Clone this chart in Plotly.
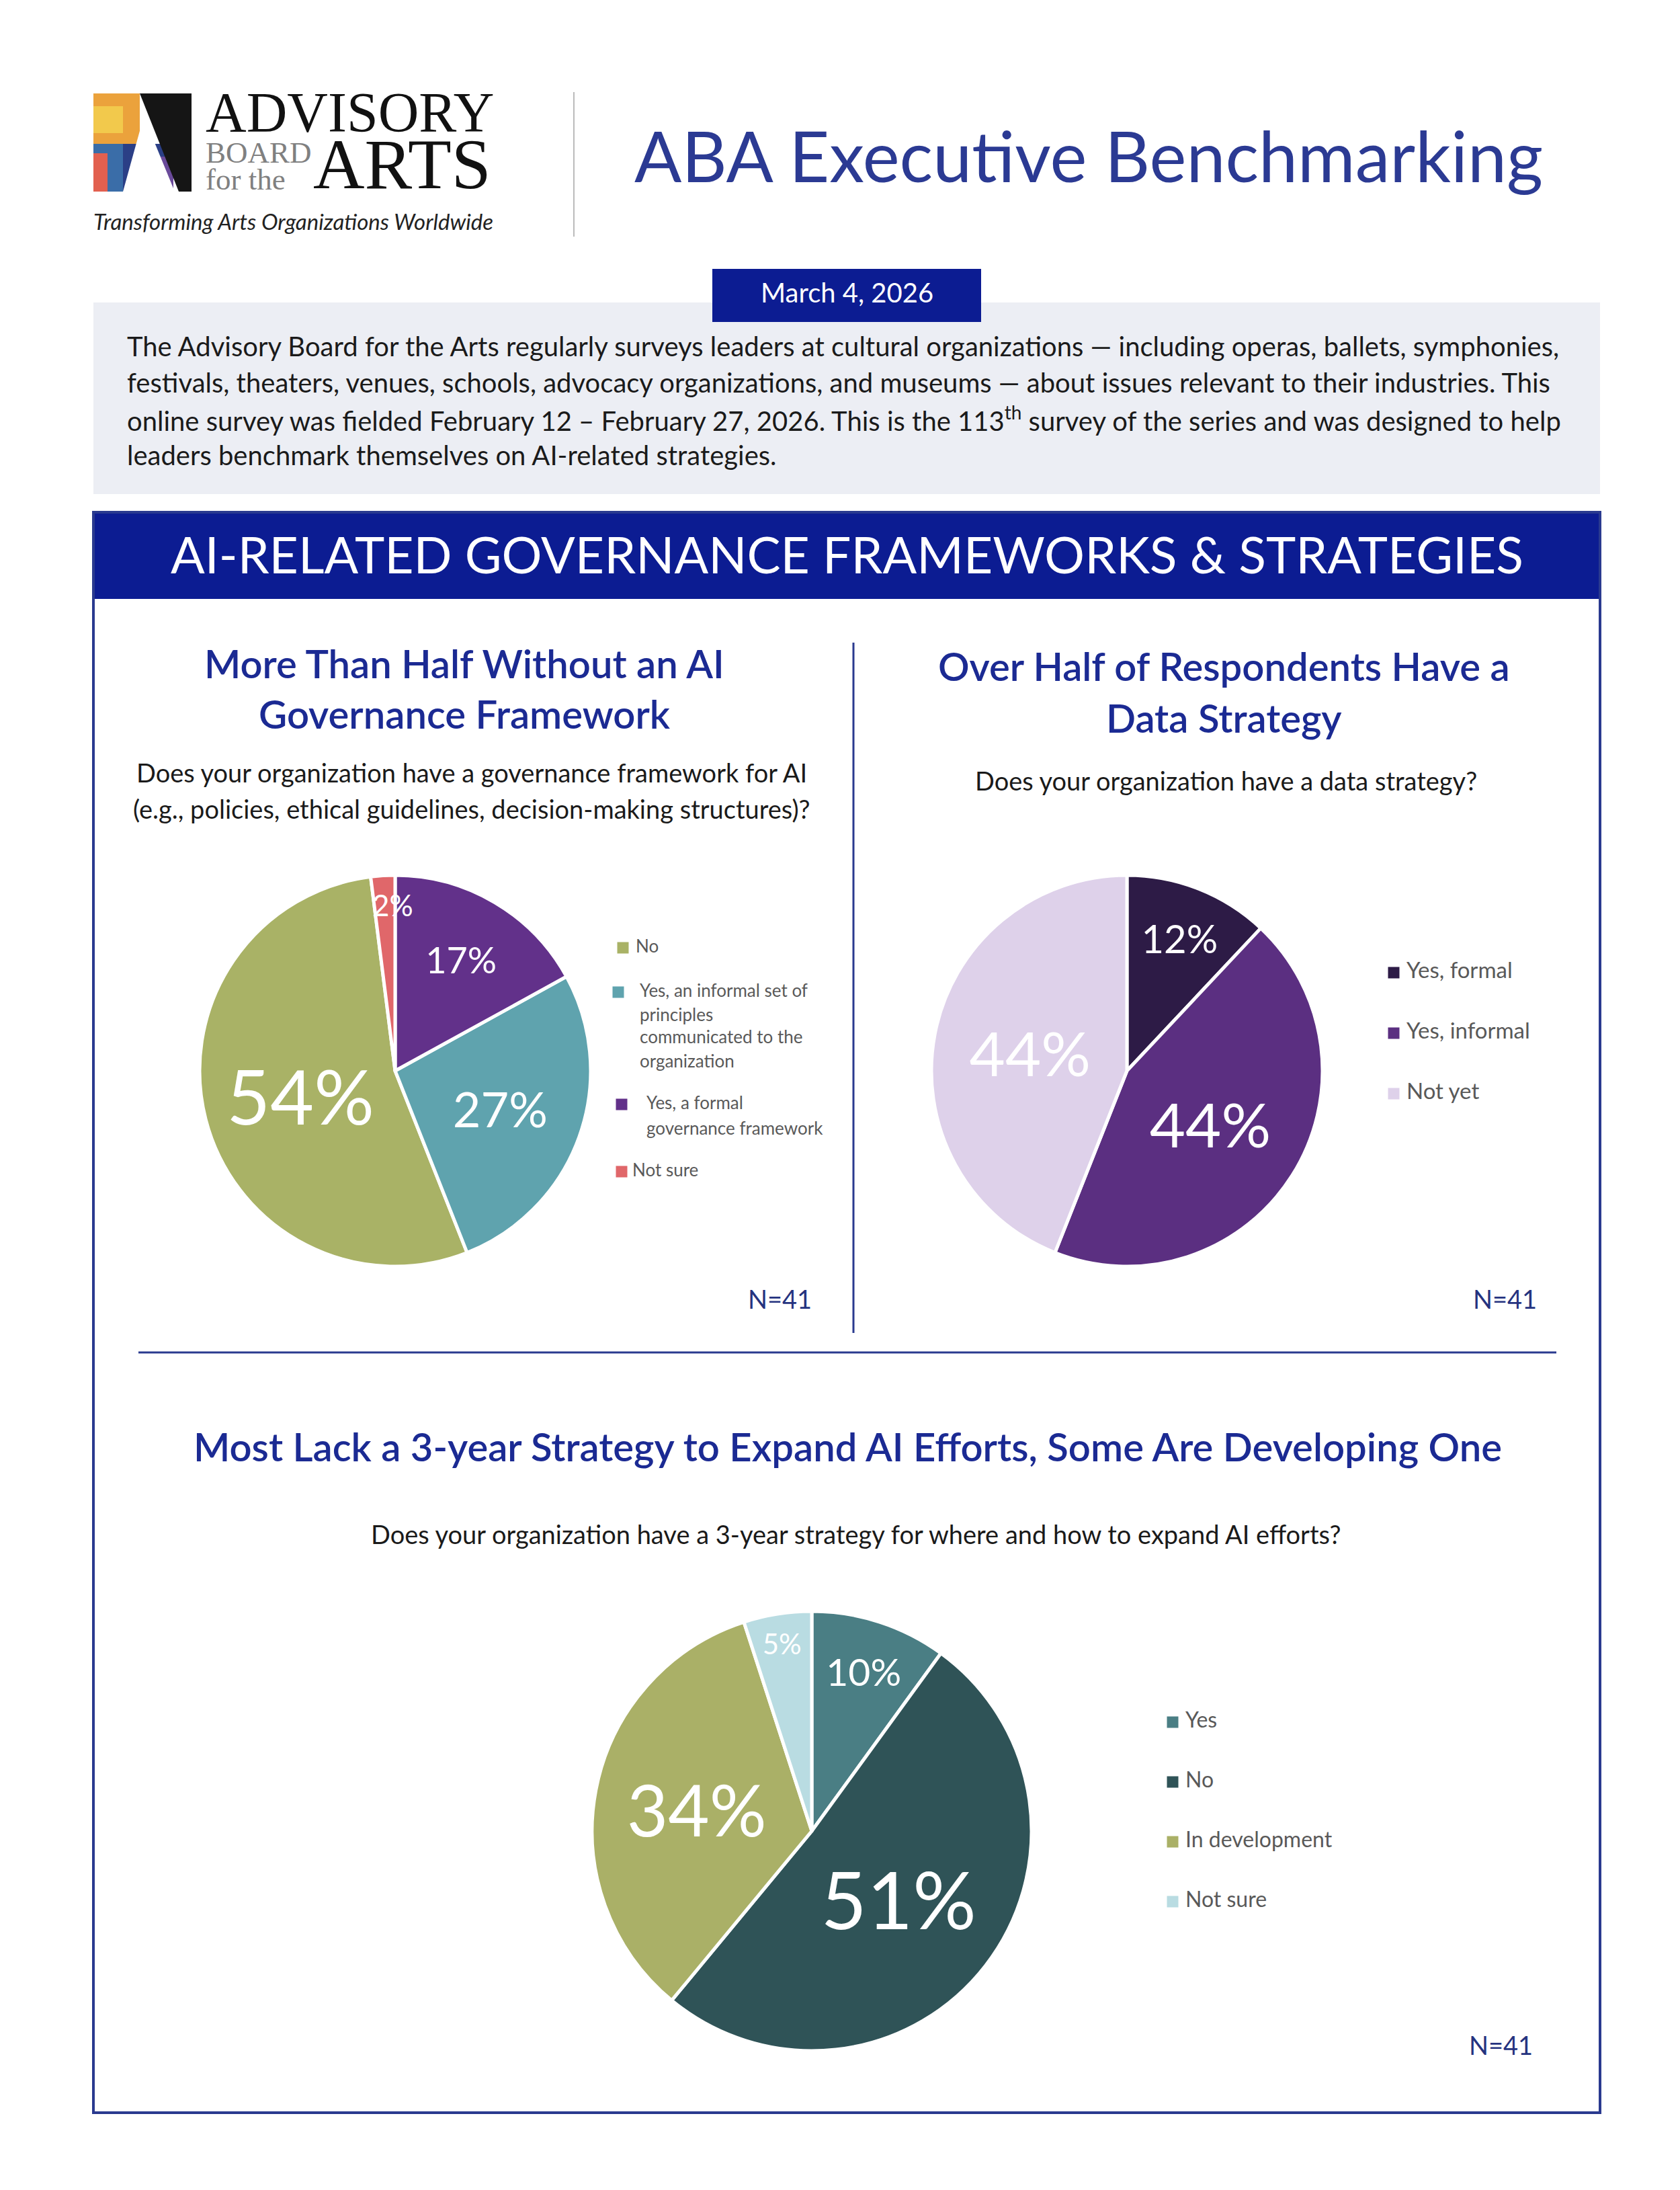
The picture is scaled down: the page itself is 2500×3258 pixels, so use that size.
import math
import plotly.graph_objects as go

W, H = 2500, 3258

# ---------------- data ----------------
gov_labels = ["No", "Yes, an informal set of principles communicated to the organization",
              "Yes, a formal governance framework", "Not sure"]
gov_legend = ["No", "Yes, an informal set of<br>principles<br>communicated to the<br>organization",
              "Yes, a formal<br>governance framework", "Not sure"]
gov_values = [54, 27, 17, 2]
gov_colors = ["#A9B266", "#5FA3AE", "#62318A", "#E0676A"]

data_labels = ["Yes, formal", "Yes, informal", "Not yet"]
data_values = [12, 44, 44]
data_colors = ["#2D1B46", "#5B2F81", "#DED1EA"]

strat_labels = ["Yes", "No", "In development", "Not sure"]
strat_values = [10, 51, 34, 5]
strat_colors = ["#4A7E84", "#2F5357", "#AAB067", "#B9DCE2"]

n_resp = [41, 41, 41]

FONT = "Lato"
NAVY = "#0C1C92"
TITLE_BLUE = "#1B2A93"
BORDER = "#2A3A8F"
DY = -7      # visual centring correction for annotation text
DX_LEFT = -8  # side-bearing correction for left-anchored text


def X(p):
    return p / W


def Y(p):
    return 1 - p / H


def dom(cx, cy, r):
    return dict(x=[X(cx - r), X(cx + r)], y=[Y(cy + r), Y(cy - r)])


fig = go.Figure()

# ---- pie 1 (governance framework) ----
P1 = (580, 1585, 291)
rot1 = 360 * sum(gov_values[1:3]) / sum(gov_values)
fig.add_trace(go.Pie(
    labels=gov_labels, values=gov_values, sort=False, direction="counterclockwise",
    rotation=rot1, domain=dom(*P1),
    marker=dict(colors=gov_colors, line=dict(color="white", width=5)),
    texttemplate="%{value}%",
    textposition=["inside", "inside", "inside", "none"],
    insidetextorientation="horizontal",
    textfont=dict(family=FONT, color="white", size=[112, 72, 54, 44]),
    hoverinfo="label+percent", showlegend=False,
))

# ---- pie 2 (data strategy) ----
P2 = (1669, 1585, 291)
fig.add_trace(go.Pie(
    labels=data_labels, values=data_values, sort=False, direction="clockwise",
    rotation=0, domain=dom(*P2),
    marker=dict(colors=data_colors, line=dict(color="white", width=5)),
    texttemplate="%{value}%", textposition="inside", insidetextorientation="horizontal",
    textfont=dict(family=FONT, color="white", size=[58, 92, 92]),
    hoverinfo="label+percent", showlegend=False,
))

# ---- pie 3 (3-year strategy) ----
P3 = (1200, 2716, 327)
fig.add_trace(go.Pie(
    labels=strat_labels, values=strat_values, sort=False, direction="clockwise",
    rotation=0, domain=dom(*P3),
    marker=dict(colors=strat_colors, line=dict(color="white", width=5)),
    texttemplate="%{value}%", textposition="inside", insidetextorientation="horizontal",
    textfont=dict(family=FONT, color="white", size=[57, 118, 106, 42]),
    hoverinfo="label+percent", showlegend=False,
))

shapes = []
annotations = []


def rect(x0, y0, x1, y1, fill=None, line=None, lw=0):
    shapes.append(dict(type="rect", xref="paper", yref="paper",
                       x0=X(x0), x1=X(x1), y0=Y(y1), y1=Y(y0),
                       fillcolor=fill if fill else "rgba(0,0,0,0)",
                       line=dict(color=line if line else "rgba(0,0,0,0)", width=lw),
                       layer="below"))


def line(x0, y0, x1, y1, color, w):
    shapes.append(dict(type="line", xref="paper", yref="paper",
                       x0=X(x0), x1=X(x1), y0=Y(y0), y1=Y(y1),
                       line=dict(color=color, width=w)))


def text(t, x, y, size, color="#1A1A1A", anchor="center", family=FONT, weight=None):
    f = dict(family=family, size=size, color=color)
    if weight:
        f["weight"] = weight
    if anchor == "left":
        x = x + DX_LEFT
    annotations.append(dict(text=t, x=X(x), y=Y(y + DY), xref="paper", yref="paper",
                            xanchor=anchor, yanchor="middle", showarrow=False, font=f))


# ---------- logo ----------
rect(131, 131, 200, 206, fill="#EBA23C")
rect(131, 150, 175, 190, fill="#F2C94C")
rect(131, 206, 200, 277, fill="#3A6DA8")
rect(131, 220, 152, 277, fill="#E2604F")
rect(175, 206, 250, 277, fill="#2B3F86")
rect(210, 225, 250, 277, fill="#6A4A9A")
shapes.append(dict(type="path", xref="paper", yref="paper",
                   path="M {a},{b} L {c},{b} L {c},{d} L {e},{d} Z".format(
                       a=X(200), b=Y(131), c=X(277), d=Y(277), e=X(258)),
                   fillcolor="#151515", line=dict(width=0)))
shapes.append(dict(type="path", xref="paper", yref="paper",
                   path="M {a},{b} L {c},{d} L {e},{d} Z".format(
                       a=X(206), b=Y(165), c=X(252), d=Y(277), e=X(175)),
                   fillcolor="white", line=dict(width=0)))
text("ADVISORY", 304, 166, 84, "#111111", "left", "Liberation Serif")
text("BOARD", 304, 226, 45, "#808080", "left", "Liberation Serif")
text("for the", 304, 266, 45, "#808080", "left", "Liberation Serif")
text("ARTS", 464, 244, 106, "#111111", "left", "Liberation Serif")
text("<i>Transforming Arts Organizations Worldwide</i>", 137, 328, 33, "#222222", "left")
line(846, 129, 846, 344, "#BBBBBB", 2)

# ---------- header ----------
text("ABA Executive Benchmarking", 1612, 230, 104, "#2B3A93")

rect(131, 442, 2373, 727, fill="#ECEEF4")
rect(1052, 392, 1452, 471, fill=NAVY)
text("March 4, 2026", 1252, 434, 40, "white")

intro = [
    "The Advisory Board for the Arts regularly surveys leaders at cultural organizations \u2014 including operas, ballets, symphonies,",
    "festivals, theaters, venues, schools, advocacy organizations, and museums \u2014 about issues relevant to their industries. This",
    "online survey was fielded February 12 \u2013 February 27, 2026. This is the 113<sup>th</sup> survey of the series and was designed to help",
    "leaders benchmark themselves on AI-related strategies.",
]
for i, t in enumerate(intro):
    text(t, 187, 514 + i * 54, 40, "#1A1A1A", "left")

rect(131, 754, 2373, 883, fill=NAVY)
rect(131, 754, 2373, 3135, line=BORDER, lw=4)
text("AI-RELATED GOVERNANCE FRAMEWORKS &amp; STRATEGIES", 1252, 823, 75, "white")

line(1262, 948, 1262, 1975, BORDER, 3)
line(198, 2004, 2308, 2004, BORDER, 3)

# ---------- panel titles / questions ----------
TW = 600
TS = 58
text("More Than Half Without an AI", 683, 985, TS, TITLE_BLUE, weight=TW)
text("Governance Framework", 683, 1060, TS, TITLE_BLUE, weight=TW)
text("Does your organization have a governance framework for AI", 694, 1148, 38)
text("(e.g., policies, ethical guidelines, decision-making structures)?", 694, 1202, 38)

text("Over Half of Respondents Have a", 1813, 990, TS, TITLE_BLUE, weight=TW)
text("Data Strategy", 1813, 1066, TS, TITLE_BLUE, weight=TW)
text("Does your organization have a data strategy?", 1816, 1160, 38)

text("Most Lack a 3-year Strategy to Expand AI Efforts, Some Are Developing One", 1253, 2150, TS,
     TITLE_BLUE, weight=TW)
text("Does your organization have a 3-year strategy for where and how to expand AI efforts?", 1266, 2281, 38)

# small-slice label for pie 1 (placed near the rim, overflowing its thin slice as in the original)
tot1 = sum(gov_values)
mid = -360 * gov_values[3] / tot1 / 2
cx, cy, r = P1
ang = math.radians(mid)
text(f"{gov_values[3]}%", cx + 0.85 * r * math.sin(ang) + 12, cy - 0.85 * r * math.cos(ang) - DY, 44, "white")

# ---------- legends ----------
LEG = "#595959"
SQ = 17


def square(cx_, cy_, color):
    shapes.append(dict(type="rect", xref="paper", yref="paper",
                       x0=X(cx_ - SQ / 2), x1=X(cx_ + SQ / 2), y0=Y(cy_ + SQ / 2), y1=Y(cy_ - SQ / 2),
                       fillcolor=color, line=dict(width=0)))


leg1 = [  # (square x, square y, text x, line ys)
    (919, 1402, 944, [1402]),
    (912, 1468, 950, [1468, 1504, 1537, 1573]),
    (917, 1635, 960, [1635, 1673]),
    (917, 1735, 939, [1735]),
]
for (sx, sy, tx, ys), lab, col in zip(leg1, gov_legend, gov_colors):
    square(sx, sy, col)
    for yy, part in zip(ys, lab.split("<br>")):
        text(part, tx, yy + 4, 26, LEG, "left")

for i, (lab, col) in enumerate(zip(data_labels, data_colors)):
    yy = 1439 + i * 90
    square(2066, yy, col)
    text(lab, 2091, yy + 2, 33, LEG, "left")

for i, (lab, col) in enumerate(zip(strat_labels, strat_colors)):
    yy = 2554 + i * 89
    square(1737, yy, col)
    text(lab, 1762, yy + 2, 32, LEG, "left")

# ---------- N labels ----------
for (nx, ny), n in zip([(1152, 1931), (2231, 1931), (2225, 3041)], n_resp):
    text(f"N={n}", nx, ny, 38, "#25337F")

fig.update_layout(
    width=W, height=H, margin=dict(l=0, r=0, t=0, b=0),
    paper_bgcolor="white", plot_bgcolor="white",
    shapes=shapes, annotations=annotations,
    font=dict(family=FONT),
)

fig.write_html("out.html")
